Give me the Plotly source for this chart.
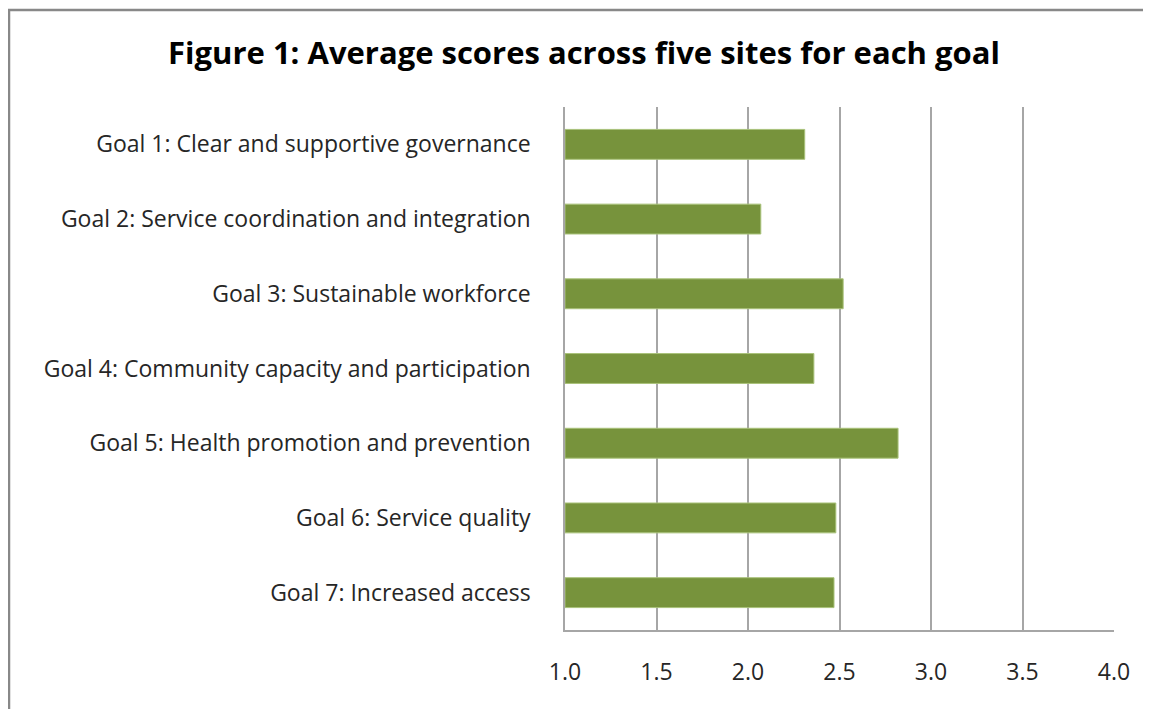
import plotly.graph_objects as go

goals = [
    "Goal 1: Clear and supportive governance",
    "Goal 2: Service coordination and integration",
    "Goal 3: Sustainable workforce",
    "Goal 4: Community capacity and participation",
    "Goal 5: Health promotion and prevention",
    "Goal 6: Service quality",
    "Goal 7: Increased access",
]
scores = [2.31, 2.07, 2.52, 2.36, 2.82, 2.48, 2.47]
tick_vals = [1.0, 1.5, 2.0, 2.5, 3.0, 3.5, 4.0]
tick_text = ["1.0", "1.5", "2.0", "2.5", "3.0", "3.5", "4.0"]
title_text = "Figure 1: Average scores across five sites for each goal"

# page body has an 8px default margin; size the figure to fit the window
OFF = 8
W, H = 1151 - OFF, 709 - OFF
ml, mt = 565 - OFF, 107 - OFF
mr = W - (1114 - OFF)
mb = H - (630 - OFF)
font_family = "'Open Sans', Lato, sans-serif"

fig = go.Figure()
fig.add_trace(go.Bar(
    y=goals,
    x=[s - 1.0 for s in scores],
    base=1.0,
    orientation="h",
    marker=dict(color="#77933C", line=dict(color="#a9c27a", width=1)),
    hoverinfo="x+y",
))

pw = W - ml - mr
ph = H - mt - mb
fig.update_layout(
    width=W, height=H,
    margin=dict(l=ml, r=mr, t=mt, b=mb, pad=0),
    paper_bgcolor="white",
    plot_bgcolor="white",
    bargap=0.6,
    showlegend=False,
    font=dict(family=font_family, color="#262626", size=23),
    title=dict(
        text="<b>" + title_text + "</b>",
        x=(584 - OFF) / W, xref="container", xanchor="center",
        y=1 - (53 - OFF) / H, yref="container", yanchor="middle",
        font=dict(family=font_family, size=31, color="#000000"),
    ),
    xaxis=dict(
        range=[1.0, 4.0],
        tickvals=tick_vals,
        ticktext=tick_text,
        showgrid=True, gridcolor="#a6a6a6", gridwidth=1.5,
        showline=True, linecolor="#a6a6a6", linewidth=1.5,
        ticks="", ticklabelstandoff=21,
        zeroline=False,
        tickfont=dict(size=23, color="#262626"),
        fixedrange=True,
    ),
    yaxis=dict(
        autorange="reversed",
        showgrid=False,
        showline=True, linecolor="#a6a6a6", linewidth=1.5,
        ticks="", ticklabelstandoff=28,
        tickfont=dict(size=23, color="#262626"),
        fixedrange=True,
    ),
    shapes=[dict(
        type="rect", xref="paper", yref="paper",
        x0=(9 - OFF - ml) / pw, x1=1.2,
        y0=-0.3, y1=(H - mb - (10 - OFF)) / ph,
        line=dict(color="#888888", width=2.5),
        fillcolor="rgba(0,0,0,0)",
        layer="below",
    )],
)

fig.write_html("out.html")
